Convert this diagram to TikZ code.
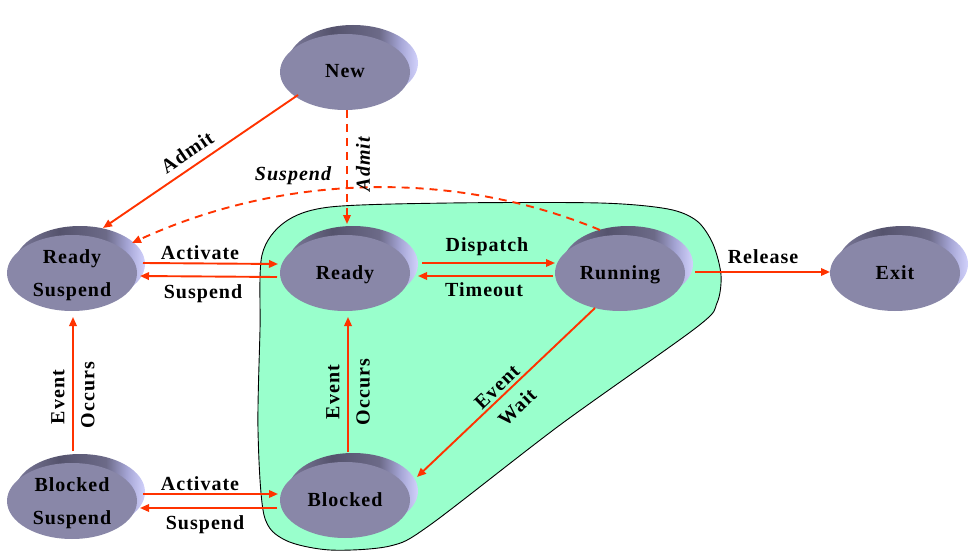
\documentclass[tikz,border=0pt]{standalone}
\usepackage{fontspec}
\setmainfont{Liberation Serif}
\newfontfamily\lbl[LetterSpace=5]{Liberation Serif}
\usetikzlibrary{shapes.geometric,shadows,arrows.meta,calc}
\definecolor{face}{HTML}{8987A8}
\definecolor{rimleft}{HTML}{7C7A9A}
\definecolor{rimdark}{HTML}{55536D}
\definecolor{rimdarkb}{HTML}{6C6A88}
\definecolor{rimmid}{HTML}{A4A4D4}
\definecolor{rimlight}{HTML}{D2D2FC}
\definecolor{blob}{HTML}{99FFCC}
\definecolor{arr}{HTML}{FF3300}
\pgfdeclarehorizontalshading{rimshade}{100bp}{color(0bp)=(rimleft); color(25bp)=(rimleft);
  color(42bp)=(rimdark); color(60bp)=(rimdarkb); color(68bp)=(rimmid);
  color(75bp)=(rimlight); color(100bp)=(rimlight)}
\begin{document}
\begin{tikzpicture}[x=1pt,y=-1pt,
  state/.style={ellipse, fill=face, minimum width=130pt, minimum height=76pt,
    inner sep=0pt, align=center,
    font=\lbl\bfseries\fontsize{20}{33}\selectfont,
    general shadow={shadow xshift=8pt, shadow yshift=9pt, shade, shading=rimshade}},
  one/.style={text height=13pt, text depth=1pt},
  two/.style={text depth=0pt},
  lab/.style={font=\lbl\bfseries\fontsize{20}{24}\selectfont, inner sep=0pt},
  ilab/.style={font=\lbl\bfseries\itshape\fontsize{20}{24}\selectfont, inner sep=0pt},
  conn/.style={draw=arr, line width=1.9pt, -{Triangle[length=9pt,width=7.5pt]}},
  dconn/.style={conn, dash pattern=on 8pt off 6pt}]
\useasboundingbox (0,0) rectangle (975,559);

% region
\draw[fill=blob, line width=0.9pt] plot[smooth cycle, tension=0.5] coordinates {
  (260,330) (262,255) (285,222) (330,207) (450,203) (600,203) (668,209)
  (697,221) (713,244) (721,275) (717,303) (697,327) (560,425) (430,525) (390,546)
  (330,550) (285,540) (264,515) (258,430)};

% states
\node[state, one] (New) at (345,72) {New};
\node[state, two] (RS) at (72,273) {Ready\\Suspend};
\node[state, one] (Ready) at (345,273) {Ready};
\node[state, one] (Run) at (620,273) {Running};
\node[state, one] (Exit) at (895,273) {Exit};
\node[state, one] (Blk) at (345,500) {Blocked};
\node[state, two] (BS) at (72,501) {Blocked\\Suspend};

% connectors
\draw[conn] ($(New)+(-47,23)$) -- ($(RS)+(31,-45)$);
\draw[dconn] ($(New)+(2,38)$) -- ($(Ready)+(2,-49)$);
\draw[dconn] ($(Run)+(-20,-43)$) .. controls (450,168) and (280,175) .. ($(RS)+(60,-30)$);
\draw[conn] ($(RS)+(71,-10)$) -- ($(Ready)+(-67,-9)$);
\draw[conn] ($(Ready)+(-68,4)$) -- ($(RS)+(68,3)$);
\draw[conn] ($(Ready)+(77,-10)$) -- ($(Run)+(-65,-10)$);
\draw[conn] ($(Run)+(-67,3)$) -- ($(Ready)+(73,3)$);
\draw[conn] ($(Run)+(75,-1)$) -- ($(Exit)+(-65,-1)$);
\draw[conn] ($(Run)+(-25,35)$) -- ($(Blk)+(72,-23)$);
\draw[conn] ($(Blk)+(3,-48)$) -- ($(Ready)+(3,44)$);
\draw[conn] ($(BS)+(1,-50)$) -- ($(RS)+(1,44)$);
\draw[conn] ($(BS)+(71,-7)$) -- ($(Blk)+(-67,-6)$);
\draw[conn] ($(Blk)+(-68,8)$) -- ($(BS)+(68,7)$);

% labels
\node[lab, rotate=34] (admit1) at (187,152) {Admit};
\node[ilab, rotate=90] (admit2) at (363,164) {Admit};
\node[ilab] (susp1) at (293,176) {Suspend};
\node[lab] (act1) at (200,253) {Activate};
\node[lab] (susp2) at (203,294) {Suspend};
\node[lab] (disp) at (487,247) {Dispatch};
\node[lab] (tout) at (484,290) {Timeout};
\node[lab] (rel) at (763,257) {Release};
\node[lab, rotate=90] (ev1) at (58,397) {Event};
\node[lab, rotate=90] (occ1) at (88,395) {Occurs};
\node[lab, rotate=90] (ev2) at (333,392) {Event};
\node[lab, rotate=90] (occ2) at (363,392) {Occurs};
\node[lab, rotate=44] (ew1) at (497,387) {Event};
\node[lab, rotate=44] (ew2) at (517,407) {Wait};
\node[lab] (act2) at (200,484) {Activate};
\node[lab] (susp3) at (205,525) {Suspend};
\end{tikzpicture}
\end{document}
